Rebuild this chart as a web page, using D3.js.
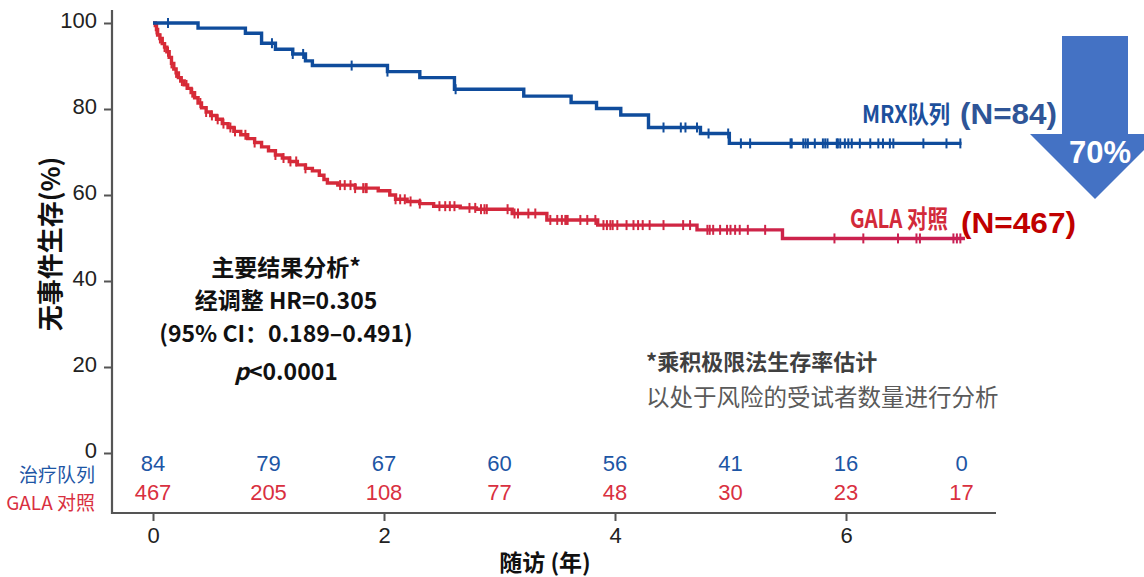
<!DOCTYPE html>
<html>
<head>
<meta charset="utf-8">
<script src="https://cdn.jsdelivr.net/npm/d3@7"></script>
<style>
body { margin: 0; background: #fff; }
svg { display: block; }
text { font-family: "Liberation Sans", Arial, sans-serif; }
.cjk { font-family: "Noto Sans CJK SC", "Liberation Sans", sans-serif; }
.narrow { font-family: "Liberation Sans Narrow", "Liberation Sans", Arial, sans-serif; }
</style>
</head>
<body>
<script>
// Kaplan-Meier knots: [years, % event-free]
var mrxSteps = [[0,100],[0.39,98.8],[0.80,97.6],[0.94,95.3],[1.06,93.9],[1.21,92.8],[1.32,91.2],[1.38,90.1],
    [2.03,88.7],[2.31,87.3],[2.61,84.6],[3.21,83.0],[3.62,81.5],[3.84,80.1],[4.05,78.6],[4.29,75.7],
    [4.74,74.3],[4.99,72.0],[7.00,72.0]];
var mrxCensor = [0.13,1.03,1.21,1.30,1.72,2.03,2.62,4.42,4.57,4.61,4.71,4.81,4.98,5.09,5.17,5.52,5.53,
    5.63,5.65,5.67,5.73,5.80,5.82,5.84,5.92,5.93,5.95,5.99,6.02,6.05,6.12,6.21,6.28,6.32,6.38,6.41,6.67,6.87,6.99];

var galaSteps = [[0,100],[0.02,99.4],[0.03,98.5],[0.04,97.2],[0.06,96.4],[0.08,95.2],[0.10,94.4],[0.12,93.3],
    [0.14,92.0],[0.16,90.6],[0.18,89.3],[0.20,88.4],[0.22,87.3],[0.24,86.5],[0.27,85.6],[0.30,84.8],
    [0.33,83.8],[0.36,82.6],[0.39,81.4],[0.42,80.3],[0.46,79.3],[0.50,78.5],[0.55,77.6],[0.60,76.6],
    [0.65,75.7],[0.70,74.8],[0.76,74.0],[0.82,73.1],[0.88,72.2],[0.94,71.2],[1.00,70.3],[1.06,69.3],
    [1.12,68.6],[1.18,67.8],[1.25,67.0],[1.32,66.2],[1.38,65.6],[1.44,64.6],[1.48,63.6],[1.51,62.8],
    [1.60,62.3],[1.75,61.6],[1.95,61.0],[2.05,60.0],[2.10,59.0],[2.20,58.5],[2.31,58.0],[2.43,57.4],
    [2.66,57.0],[2.80,56.7],[3.11,55.7],[3.41,54.2],[3.85,53.0],[4.71,51.9],[5.45,49.9],[7.03,49.9]];
var galaCensor = [0.03,0.06,0.10,0.13,0.16,0.20,0.25,0.29,0.34,0.41,0.46,0.51,0.56,0.61,0.67,0.71,0.80,0.88,
    1.06,1.13,1.19,1.24,1.32,1.62,1.66,1.71,1.75,1.82,1.84,1.85,2.10,2.14,2.18,2.23,2.31,2.48,2.53,2.57,
    2.61,2.74,2.79,2.84,2.87,2.89,3.07,3.13,3.16,3.25,3.31,3.44,3.50,3.54,3.57,3.58,3.59,3.70,3.76,3.83,
    3.90,3.93,3.96,3.98,4.02,4.10,4.16,4.20,4.24,4.30,4.42,4.59,4.65,4.80,4.82,4.85,4.91,4.97,5.00,5.04,
    5.08,5.15,5.30,5.90,6.15,6.45,6.61,6.64,6.93,6.96,6.99];

var riskTimes = [0,1,2,3,4,5,6,7];
var riskMrx = [84,79,67,60,56,41,16,0];
var riskGala = [467,205,108,77,48,30,23,17];
var yTicks = [0,20,40,60,80,100];
var xTicks = [0,2,4,6];

var blue = '#0f4c9c',
    red = '#d32a3c';

document.addEventListener("DOMContentLoaded", function(event) {
    var svg = d3.select('body').append('svg').attr('width', 1144).attr('height', 577),
        x = d3.scaleLinear().domain([0, 7]).range([153, 961.5]),
        y = d3.scaleLinear().domain([0, 100]).range([453, 23]),
        axisY = 513,
        axisX = 112;

    var grad = svg.append('defs').append('linearGradient').attr('id', 'redgrad')
        .attr('gradientUnits', 'userSpaceOnUse').attr('x1', x(0)).attr('x2', x(7)).attr('y1', 0).attr('y2', 0);
    grad.append('stop').attr('offset', '0%').attr('stop-color', '#d72a36');
    grad.append('stop').attr('offset', '55%').attr('stop-color', '#d2283f');
    grad.append('stop').attr('offset', '100%').attr('stop-color', '#c81f55');

    drawAxes();
    drawCurve(galaSteps, galaCensor, 'url(#redgrad)');
    drawCurve(mrxSteps, mrxCensor, blue);
    drawRiskTable();
    drawLabels();
    drawArrow();

    function survAt(steps, t) {
        var v = steps[0][1];
        steps.forEach(function(s) { if (s[0] <= t) v = s[1]; });
        return v;
    }

    function drawAxes() {
        var gy = svg.append('g').attr('transform', 'translate(' + axisX + ',0)')
            .call(d3.axisLeft(y).tickValues(yTicks).tickSize(8).tickPadding(7).tickSizeOuter(0));
        gy.select('.domain').remove();
        gy.selectAll('line').attr('stroke', '#555').attr('stroke-width', 2);
        gy.selectAll('text').attr('class', 'narrow').attr('font-size', 22).attr('fill', '#222').attr('dy', '0.2em');

        var gx = svg.append('g').attr('transform', 'translate(0,' + axisY + ')')
            .call(d3.axisBottom(x).tickValues(xTicks).tickFormat(d3.format('d'))
                .tickSize(8).tickPadding(6).tickSizeOuter(0));
        gx.select('.domain').remove();
        gx.selectAll('line').attr('stroke', '#555').attr('stroke-width', 2);
        gx.selectAll('text').attr('class', 'narrow').attr('font-size', 22).attr('fill', '#222');

        svg.append('path')
            .attr('d', 'M' + axisX + ',' + y(103) + 'V' + axisY + 'H996')
            .attr('fill', 'none').attr('stroke', '#555').attr('stroke-width', 2.2);

        svg.append('text').attr('class', 'cjk')
            .attr('transform', 'translate(60,244) rotate(-90)')
            .attr('text-anchor', 'middle').attr('font-size', 26).attr('font-weight', 'bold').attr('fill', '#111')
            .text('无事件生存(%)');

        svg.append('text').attr('class', 'cjk')
            .attr('x', 545).attr('y', 571)
            .attr('text-anchor', 'middle').attr('font-size', 23).attr('font-weight', 'bold').attr('fill', '#111')
            .text('随访 (年)');
    }

    function drawCurve(steps, censor, color) {
        var line = d3.line().x(function(d) { return x(d[0]); }).y(function(d) { return y(d[1]); })
            .curve(d3.curveStepAfter);
        svg.append('path').datum(steps).attr('d', line)
            .attr('fill', 'none').attr('stroke', color).attr('stroke-width', 3.4);
        svg.append('g').selectAll('line').data(censor).enter().append('line')
            .attr('x1', function(d) { return x(d); }).attr('x2', function(d) { return x(d); })
            .attr('y1', function(d) { return y(survAt(steps, d)) - 5; })
            .attr('y2', function(d) { return y(survAt(steps, d)) + 5; })
            .attr('stroke', color).attr('stroke-width', 2);
    }

    function drawRiskTable() {
        svg.append('g').selectAll('text').data(riskMrx).enter().append('text')
            .attr('class', 'narrow').attr('x', function(d, i) { return x(riskTimes[i]); }).attr('y', 471)
            .attr('text-anchor', 'middle').attr('font-size', 22).attr('fill', '#1d56a5')
            .text(function(d) { return d; });
        svg.append('g').selectAll('text').data(riskGala).enter().append('text')
            .attr('class', 'narrow').attr('x', function(d, i) { return x(riskTimes[i]); }).attr('y', 500)
            .attr('text-anchor', 'middle').attr('font-size', 22).attr('fill', '#d9303f')
            .text(function(d) { return d; });
        svg.append('text').attr('class', 'cjk').attr('x', 95).attr('y', 482)
            .attr('text-anchor', 'end').attr('font-size', 19).attr('fill', '#1d56a5').text('治疗队列');
        svg.append('text').attr('class', 'cjk').attr('x', 95).attr('y', 510)
            .attr('text-anchor', 'end').attr('font-size', 19).attr('fill', '#d9303f').text('GALA 对照');
    }

    function drawLabels() {
        var lines = ['主要结果分析*', '经调整 HR=0.305', '(95% CI：0.189–0.491)'];
        lines.forEach(function(s, i) {
            svg.append('text').attr('class', 'cjk').attr('x', 286).attr('y', 276 + i * 33)
                .attr('text-anchor', 'middle').attr('font-size', 23).attr('font-weight', 'bold').attr('fill', '#111')
                .text(s);
        });
        var p = svg.append('text').attr('class', 'cjk').attr('x', 286).attr('y', 380)
            .attr('text-anchor', 'middle').attr('font-size', 23).attr('font-weight', 'bold').attr('fill', '#111');
        p.append('tspan').attr('font-style', 'italic').text('p');
        p.append('tspan').text('<0.0001');

        svg.append('text').attr('class', 'cjk').attr('x', 646).attr('y', 370)
            .attr('font-size', 22).attr('font-weight', 'bold').attr('fill', '#404040').text('*乘积极限法生存率估计');
        svg.append('text').attr('class', 'cjk').attr('x', 646).attr('y', 406)
            .attr('font-size', 23.5).attr('fill', '#5a5a5a').text('以处于风险的受试者数量进行分析');

        svg.append('text').attr('class', 'cjk').attr('x', 862).attr('y', 123)
            .attr('font-size', 24).attr('font-weight', 'bold').attr('fill', '#1c4f9c')
            .attr('textLength', 88).attr('lengthAdjust', 'spacingAndGlyphs').text('MRX队列');
        svg.append('text').attr('x', 960).attr('y', 124)
            .attr('font-size', 29).attr('font-weight', 'bold').attr('fill', '#2f5597')
            .attr('textLength', 97).attr('lengthAdjust', 'spacingAndGlyphs').text('(N=84)');

        svg.append('text').attr('class', 'cjk').attr('x', 850).attr('y', 228)
            .attr('font-size', 25).attr('font-weight', 'bold').attr('fill', '#d22a3a')
            .attr('textLength', 98).attr('lengthAdjust', 'spacingAndGlyphs').text('GALA 对照');
        svg.append('text').attr('x', 961).attr('y', 233)
            .attr('font-size', 30).attr('font-weight', 'bold').attr('fill', '#c00000')
            .attr('textLength', 115).attr('lengthAdjust', 'spacingAndGlyphs').text('(N=467)');
    }

    function drawArrow() {
        svg.append('path')
            .attr('d', 'M1062,36H1128V134H1160L1095,199L1030,134H1062Z')
            .attr('fill', '#4472c4');
        svg.append('text').attr('x', 1100).attr('y', 163).attr('text-anchor', 'middle')
            .attr('font-size', 31).attr('font-weight', 'bold').attr('fill', '#fff').text('70%');
    }
});
</script>
</body>
</html>
